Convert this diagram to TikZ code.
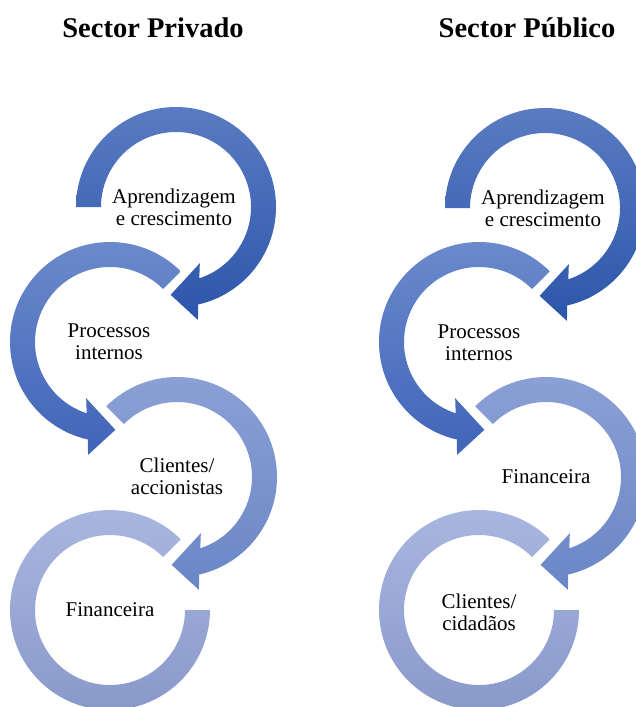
\documentclass[tikz,border=0pt]{standalone}
\usepackage{fontspec}
\setmainfont{Liberation Serif}
\usetikzlibrary{calc}

% ring shades, darkest (first step) to lightest (last step)
\definecolor{stepAtop}{HTML}{5A7BC1}
\definecolor{stepAbot}{HTML}{2C56AB}
\definecolor{stepBtop}{HTML}{6D8BCC}
\definecolor{stepBbot}{HTML}{4064B9}
\definecolor{stepCtop}{HTML}{8CA1D5}
\definecolor{stepCbot}{HTML}{6A86C6}
\definecolor{stepDtop}{HTML}{AAB8E0}
\definecolor{stepDbot}{HTML}{8797C9}

\tikzset{
  ringlabel/.style={font=\fontsize{21}{22}\selectfont, align=center, text=black},
  headline/.style={font=\fontsize{28.5}{30}\selectfont\bfseries, anchor=base},
}

% clockwise ring with arrowhead at the bottom: centre, start angle, top colour, bottom colour
\newcommand{\cwring}[4]{%
  \shade[top color=#3, bottom color=#4, shift={(#1)}]
    (#2:100) arc[start angle=#2, end angle=-77.2, radius=100]
    -- (-79:115) -- (-93.5:88) -- (-67:61) -- (-71.9:75)
    arc[start angle=-71.9, end angle=#2, radius=75] -- cycle;
}
% counter-clockwise ring with arrowhead at the bottom
\newcommand{\ccwring}[4]{%
  \shade[top color=#3, bottom color=#4, shift={(#1)}]
    (#2:100) arc[start angle=#2, end angle=257.2, radius=100]
    -- (259:115) -- (273.5:88) -- (247:61) -- (251.9:75)
    arc[start angle=251.9, end angle=#2, radius=75] -- cycle;
}
% last ring: open at the right, no arrowhead
\newcommand{\openring}[3]{%
  \shade[top color=#2, bottom color=#3, shift={(#1)}]
    (45:100) arc[start angle=45, end angle=360, radius=100]
    -- (0:75) arc[start angle=360, end angle=45, radius=75] -- cycle;
}

\begin{document}
\begin{tikzpicture}[x=1pt, y=1pt]
  \useasboundingbox (0,0) rectangle (636,-707);
  \clip (0,0) rectangle (636,-707);

  % ring centres
  \coordinate (pA) at (176,-207);
  \coordinate (pB) at (110,-342);
  \coordinate (pC) at (177,-477);
  \coordinate (pD) at (110,-610);
  \coordinate (gA) at (545,-208);
  \coordinate (gB) at (479,-342);
  \coordinate (gC) at (546,-477);
  \coordinate (gD) at (479,-610);

  % private sector column
  \openring{pD}{stepDtop}{stepDbot}
  \cwring{pC}{135}{stepCtop}{stepCbot}
  \ccwring{pB}{45}{stepBtop}{stepBbot}
  \cwring{pA}{180}{stepAtop}{stepAbot}

  % public sector column
  \openring{gD}{stepDtop}{stepDbot}
  \cwring{gC}{135}{stepCtop}{stepCbot}
  \ccwring{gB}{45}{stepBtop}{stepBbot}
  \cwring{gA}{180}{stepAtop}{stepAbot}

  % headings
  \node[headline] (hPriv) at (153,-37) {Sector Privado};
  \node[headline] (hPub)  at (527,-37) {Sector Público};

  % labels
  \node[ringlabel] (lpA) at (174,-207) {Aprendizagem\\e crescimento};
  \node[ringlabel] (lpB) at (109,-342) {Processos\\internos};
  \node[ringlabel] (lpC) at (177,-476) {Clientes/\\accionistas};
  \node[ringlabel] (lpD) at (110,-610) {Financeira};

  \node[ringlabel] (lgA) at (543,-208) {Aprendizagem\\e crescimento};
  \node[ringlabel] (lgB) at (479,-343) {Processos\\internos};
  \node[ringlabel] (lgC) at (546,-477) {Financeira};
  \node[ringlabel] (lgD) at (479,-612) {Clientes/\\cidadãos};
\end{tikzpicture}
\end{document}
